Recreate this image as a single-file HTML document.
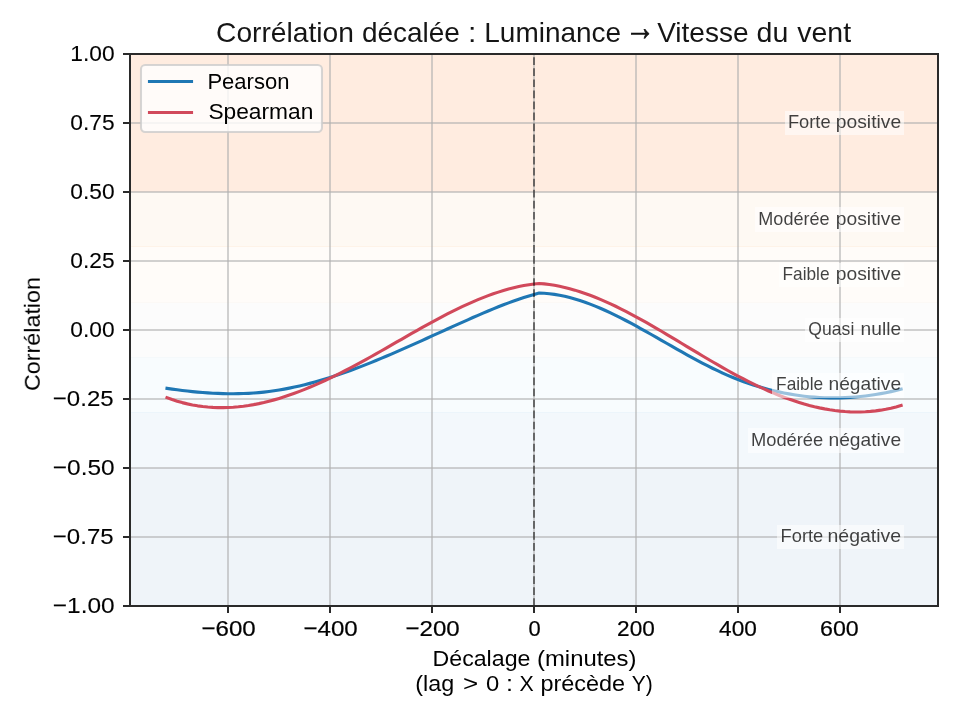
<!DOCTYPE html>
<html lang="fr"><head><meta charset="utf-8"><title>Corrélation décalée : Luminance → Vitesse du vent</title>
<style>
html,body{margin:0;padding:0;background:#fff;overflow:hidden}
svg{display:block}
text{font-family:"Liberation Sans",sans-serif;fill:#000}
</style></head>
<body>
<svg width="960" height="720" viewBox="0 0 960 720">
<rect width="960" height="720" fill="#fff"/>
<g id="bands" shape-rendering="crispEdges">
<rect x="130" y="54" width="808" height="138" fill="#FFECE0"/>
<rect x="130" y="192" width="808" height="54" fill="#FEF9F3"/>
<rect x="130" y="247" width="808" height="55" fill="#FFFCF9"/>
<rect x="130" y="303" width="808" height="54" fill="#FCFCFC"/>
<rect x="130" y="358" width="808" height="54" fill="#F8FCFE"/>
<rect x="130" y="413" width="808" height="55" fill="#F3F8FC"/>
<rect x="130" y="468" width="808" height="138" fill="#EFF4F9"/>
<rect x="130" y="246" width="808" height="1" fill="#FEF3E8"/>
<rect x="130" y="302" width="808" height="1" fill="#FCF9F6"/>
<rect x="130" y="357" width="808" height="1" fill="#F5F9FB"/>
<rect x="130" y="412" width="808" height="1" fill="#ECF5FB"/>
</g>
<g id="grid" fill="#b0b0b0" fill-opacity="0.583" shape-rendering="crispEdges">
<rect x="227" y="54" width="2" height="552"/>
<rect x="329" y="54" width="2" height="552"/>
<rect x="431" y="54" width="2" height="552"/>
<rect x="533" y="54" width="2" height="552"/>
<rect x="635" y="54" width="2" height="552"/>
<rect x="737" y="54" width="2" height="552"/>
<rect x="839" y="54" width="2" height="552"/>
<rect x="130" y="536" width="808" height="2"/>
<rect x="130" y="467" width="808" height="2"/>
<rect x="130" y="398" width="808" height="2"/>
<rect x="130" y="329" width="808" height="2"/>
<rect x="130" y="260" width="808" height="2"/>
<rect x="130" y="191" width="808" height="2"/>
<rect x="130" y="122" width="808" height="2"/>
</g>
<g id="curves" fill="none" stroke-width="3.125" stroke-linejoin="round" stroke-linecap="square">
<path stroke="#1f77b4" d="M167.00 388.32 L172.10 389.09 L177.20 389.81 L182.30 390.47 L187.40 391.07 L192.49 391.62 L197.59 392.10 L202.69 392.53 L207.79 392.90 L212.89 393.20 L217.98 393.43 L223.08 393.61 L228.18 393.71 L233.28 393.73 L238.37 393.68 L243.47 393.55 L248.57 393.33 L253.67 393.02 L258.77 392.61 L263.86 392.11 L268.96 391.51 L274.06 390.80 L279.16 390.01 L284.26 389.12 L289.35 388.14 L294.45 387.07 L299.55 385.92 L304.65 384.69 L309.74 383.38 L314.84 381.99 L319.94 380.53 L325.04 379.01 L330.14 377.41 L335.23 375.75 L340.33 374.03 L345.43 372.25 L350.53 370.42 L355.63 368.53 L360.72 366.59 L365.82 364.61 L370.92 362.58 L376.02 360.51 L381.11 358.40 L386.21 356.26 L391.31 354.09 L396.41 351.88 L401.51 349.66 L406.60 347.41 L411.70 345.14 L416.80 342.85 L421.90 340.56 L427.00 338.25 L432.09 335.94 L437.19 333.62 L442.29 331.30 L447.39 328.98 L452.48 326.67 L457.58 324.37 L462.68 322.08 L467.78 319.81 L472.88 317.55 L477.97 315.32 L483.07 313.13 L488.17 310.97 L493.27 308.86 L498.37 306.80 L503.46 304.80 L508.56 302.87 L513.66 301.00 L518.76 299.22 L523.85 297.53 L528.95 295.92 L534.05 294.41 L539.15 293.01 L544.25 293.25 L549.34 293.70 L554.44 294.36 L559.54 295.23 L564.64 296.28 L569.73 297.52 L574.83 298.93 L579.93 300.51 L585.03 302.24 L590.13 304.11 L595.22 306.12 L600.32 308.26 L605.42 310.51 L610.52 312.88 L615.62 315.33 L620.71 317.88 L625.81 320.51 L630.91 323.21 L636.01 325.97 L641.10 328.77 L646.20 331.63 L651.30 334.51 L656.40 337.42 L661.50 340.34 L666.59 343.26 L671.69 346.19 L676.79 349.09 L681.89 351.98 L686.99 354.83 L692.08 357.63 L697.18 360.39 L702.28 363.09 L707.38 365.71 L712.47 368.26 L717.57 370.71 L722.67 373.07 L727.77 375.32 L732.87 377.47 L737.96 379.50 L743.06 381.42 L748.16 383.24 L753.26 384.95 L758.36 386.55 L763.45 388.04 L768.55 389.43 L773.65 390.71 L778.75 391.88 L783.84 392.95 L788.94 393.91 L794.04 394.77 L799.14 395.53 L804.24 396.18 L809.33 396.72 L814.43 397.16 L819.53 397.50 L824.63 397.74 L829.73 397.87 L834.82 397.90 L839.92 397.83 L845.02 397.66 L850.12 397.39 L855.21 397.02 L860.31 396.55 L865.41 395.97 L870.51 395.30 L875.61 394.53 L880.70 393.66 L885.80 392.69 L890.90 391.62 L896.00 390.46 L901.10 389.20"/>
<path stroke="#d1495b" d="M167.00 397.67 L172.10 399.52 L177.20 401.17 L182.30 402.62 L187.40 403.87 L192.49 404.94 L197.59 405.83 L202.69 406.53 L207.79 407.06 L212.89 407.42 L217.98 407.61 L223.08 407.63 L228.18 407.50 L233.28 407.22 L238.37 406.78 L243.47 406.20 L248.57 405.47 L253.67 404.61 L258.77 403.62 L263.86 402.50 L268.96 401.25 L274.06 399.88 L279.16 398.40 L284.26 396.80 L289.35 395.10 L294.45 393.30 L299.55 391.39 L304.65 389.39 L309.74 387.31 L314.84 385.13 L319.94 382.87 L325.04 380.54 L330.14 378.13 L335.23 375.66 L340.33 373.11 L345.43 370.51 L350.53 367.86 L355.63 365.15 L360.72 362.39 L365.82 359.59 L370.92 356.75 L376.02 353.88 L381.11 350.99 L386.21 348.07 L391.31 345.15 L396.41 342.22 L401.51 339.28 L406.60 336.36 L411.70 333.45 L416.80 330.56 L421.90 327.69 L427.00 324.86 L432.09 322.06 L437.19 319.31 L442.29 316.61 L447.39 313.97 L452.48 311.39 L457.58 308.88 L462.68 306.45 L467.78 304.10 L472.88 301.84 L477.97 299.68 L483.07 297.62 L488.17 295.66 L493.27 293.82 L498.37 292.11 L503.46 290.52 L508.56 289.06 L513.66 287.75 L518.76 286.58 L523.85 285.56 L528.95 284.70 L534.05 284.01 L539.15 283.49 L544.25 283.92 L549.34 284.53 L554.44 285.32 L559.54 286.28 L564.64 287.41 L569.73 288.69 L574.83 290.13 L579.93 291.71 L585.03 293.43 L590.13 295.29 L595.22 297.26 L600.32 299.36 L605.42 301.56 L610.52 303.88 L615.62 306.28 L620.71 308.79 L625.81 311.37 L630.91 314.03 L636.01 316.77 L641.10 319.57 L646.20 322.42 L651.30 325.33 L656.40 328.28 L661.50 331.27 L666.59 334.29 L671.69 337.34 L676.79 340.40 L681.89 343.47 L686.99 346.55 L692.08 349.62 L697.18 352.69 L702.28 355.74 L707.38 358.76 L712.47 361.76 L717.57 364.72 L722.67 367.64 L727.77 370.50 L732.87 373.32 L737.96 376.06 L743.06 378.74 L748.16 381.35 L753.26 383.88 L758.36 386.32 L763.45 388.68 L768.55 390.95 L773.65 393.13 L778.75 395.21 L783.84 397.19 L788.94 399.06 L794.04 400.82 L799.14 402.47 L804.24 404.01 L809.33 405.42 L814.43 406.70 L819.53 407.86 L824.63 408.88 L829.73 409.76 L834.82 410.51 L839.92 411.10 L845.02 411.55 L850.12 411.85 L855.21 411.98 L860.31 411.96 L865.41 411.77 L870.51 411.41 L875.61 410.88 L880.70 410.17 L885.80 409.28 L890.90 408.21 L896.00 406.94 L901.10 405.48"/>
</g>
<line x1="534" y1="606" x2="534" y2="54" stroke="#000" stroke-opacity="0.5" stroke-width="2" stroke-dasharray="7.71 3.33"/>
<g id="axes" fill="#2a2a2a" shape-rendering="crispEdges">
<rect x="129" y="53" width="2" height="554"/><rect x="937" y="53" width="2" height="554"/><rect x="129" y="53" width="810" height="2"/><rect x="129" y="605" width="810" height="2"/>
<rect x="227" y="607" width="2" height="6"/><rect x="329" y="607" width="2" height="6"/><rect x="431" y="607" width="2" height="6"/><rect x="533" y="607" width="2" height="6"/><rect x="635" y="607" width="2" height="6"/><rect x="737" y="607" width="2" height="6"/><rect x="839" y="607" width="2" height="6"/>
<rect x="123" y="605" width="6" height="2"/><rect x="123" y="536" width="6" height="2"/><rect x="123" y="467" width="6" height="2"/><rect x="123" y="398" width="6" height="2"/><rect x="123" y="329" width="6" height="2"/><rect x="123" y="260" width="6" height="2"/><rect x="123" y="191" width="6" height="2"/><rect x="123" y="122" width="6" height="2"/><rect x="123" y="53" width="6" height="2"/>
</g>
<g id="legend">
<rect x="141" y="65" width="181" height="67" rx="4.17" ry="4.17" fill="#fff" fill-opacity="0.8" stroke="#ccc" stroke-opacity="0.8" stroke-width="2.08"/>
<line x1="149.5" y1="81.5" x2="191.5" y2="81.5" stroke="#1f77b4" stroke-width="3.125" stroke-linecap="square"/>
<line x1="149.5" y1="112.5" x2="191.5" y2="112.5" stroke="#d1495b" stroke-width="3.125" stroke-linecap="square"/>
</g>
<g id="zoneboxes" fill="#fff" fill-opacity="0.55" shape-rendering="crispEdges">
<rect x="785" y="111" width="119" height="24"/>
<rect x="755" y="207" width="149" height="25"/>
<rect x="779" y="263" width="125" height="24"/>
<rect x="805" y="318" width="99" height="24"/>
<rect x="772" y="373" width="132" height="25"/>
<rect x="748" y="428" width="156" height="25"/>
<rect x="777" y="525" width="127" height="24"/>
</g>
<g id="labels" style="opacity:0.999">
<text y="42.20" font-size="27.40" fill-opacity="0.92"><tspan x="216.05" textLength="137.87" lengthAdjust="spacingAndGlyphs">Corrélation</tspan> <tspan x="361.92" textLength="98.00" lengthAdjust="spacingAndGlyphs">décalée</tspan> <tspan x="467.92" textLength="8.38" lengthAdjust="spacingAndGlyphs">:</tspan> <tspan x="484.30" textLength="136.87" lengthAdjust="spacingAndGlyphs">Luminance</tspan> <tspan x="624.97" textLength="29.90" lengthAdjust="spacingAndGlyphs" font-size="38.0" dy="-2.00" stroke="#000" stroke-width="0.65">→</tspan> <tspan x="657.18" textLength="91.40" lengthAdjust="spacingAndGlyphs" dy="2.00">Vitesse</tspan> <tspan x="756.55" textLength="31.75" lengthAdjust="spacingAndGlyphs">du</tspan> <tspan x="797.30" textLength="53.74" lengthAdjust="spacingAndGlyphs">vent</tspan></text>
<text y="665.60" font-size="22.60"><tspan x="432.55" textLength="97.87" lengthAdjust="spacingAndGlyphs">Décalage</tspan> <tspan x="537.05" textLength="99.47" lengthAdjust="spacingAndGlyphs">(minutes)</tspan></text>
<text y="690.60" font-size="22.60"><tspan x="415.30" textLength="38.92" lengthAdjust="spacingAndGlyphs">(lag</tspan> <tspan x="462.92" textLength="15.17" lengthAdjust="spacingAndGlyphs">&gt;</tspan> <tspan x="486.05" textLength="13.25" lengthAdjust="spacingAndGlyphs">0</tspan> <tspan x="505.92" textLength="7.00" lengthAdjust="spacingAndGlyphs">:</tspan> <tspan x="519.55" textLength="14.25" lengthAdjust="spacingAndGlyphs">X</tspan> <tspan x="540.42" textLength="84.75" lengthAdjust="spacingAndGlyphs">précède</tspan> <tspan x="631.80" textLength="21.00" lengthAdjust="spacingAndGlyphs">Y)</tspan></text>
<text transform="translate(39.80 391.00) rotate(-90)" font-size="22.60" textLength="113.97" lengthAdjust="spacingAndGlyphs">Corrélation</text>
<text x="207.40" y="88.80" font-size="22.60" textLength="82.00" lengthAdjust="spacingAndGlyphs">Pearson</text>
<text x="208.40" y="119.20" font-size="22.60" textLength="104.98" lengthAdjust="spacingAndGlyphs">Spearman</text>
<text x="201.53" y="636.40" font-size="22.60" stroke="#000" stroke-width="0.22" textLength="54.23" lengthAdjust="spacingAndGlyphs">−600</text>
<text x="303.49" y="636.40" font-size="22.60" stroke="#000" stroke-width="0.22" textLength="54.23" lengthAdjust="spacingAndGlyphs">−400</text>
<text x="405.44" y="636.40" font-size="22.60" stroke="#000" stroke-width="0.22" textLength="54.23" lengthAdjust="spacingAndGlyphs">−200</text>
<text x="528.40" y="636.40" font-size="22.60" stroke="#000" stroke-width="0.22" textLength="12.19" lengthAdjust="spacingAndGlyphs">0</text>
<text x="617.11" y="636.40" font-size="22.60" stroke="#000" stroke-width="0.22" textLength="37.71" lengthAdjust="spacingAndGlyphs">200</text>
<text x="719.06" y="636.40" font-size="22.60" stroke="#000" stroke-width="0.22" textLength="37.76" lengthAdjust="spacingAndGlyphs">400</text>
<text x="820.02" y="636.40" font-size="22.60" stroke="#000" stroke-width="0.22" textLength="38.75" lengthAdjust="spacingAndGlyphs">600</text>
<text x="52.80" y="613.40" font-size="22.60" stroke="#000" stroke-width="0.10" textLength="61.86" lengthAdjust="spacingAndGlyphs">−1.00</text>
<text x="52.80" y="544.40" font-size="22.60" stroke="#000" stroke-width="0.10" textLength="60.84" lengthAdjust="spacingAndGlyphs">−0.75</text>
<text x="52.80" y="475.40" font-size="22.60" stroke="#000" stroke-width="0.10" textLength="61.86" lengthAdjust="spacingAndGlyphs">−0.50</text>
<text x="52.80" y="406.40" font-size="22.60" stroke="#000" stroke-width="0.10" textLength="60.84" lengthAdjust="spacingAndGlyphs">−0.25</text>
<text x="70.30" y="337.40" font-size="22.60" stroke="#000" stroke-width="0.10" textLength="44.34" lengthAdjust="spacingAndGlyphs">0.00</text>
<text x="70.30" y="268.40" font-size="22.60" stroke="#000" stroke-width="0.10" textLength="44.34" lengthAdjust="spacingAndGlyphs">0.25</text>
<text x="70.30" y="199.40" font-size="22.60" stroke="#000" stroke-width="0.10" textLength="44.34" lengthAdjust="spacingAndGlyphs">0.50</text>
<text x="70.30" y="130.40" font-size="22.60" stroke="#000" stroke-width="0.10" textLength="44.34" lengthAdjust="spacingAndGlyphs">0.75</text>
<text x="70.30" y="61.40" font-size="22.60" stroke="#000" stroke-width="0.10" textLength="44.29" lengthAdjust="spacingAndGlyphs">1.00</text>
<text y="127.75" font-size="18.10" fill-opacity="0.75"><tspan x="787.97" textLength="42.63" lengthAdjust="spacingAndGlyphs">Forte</tspan> <tspan x="835.85" textLength="65.25" lengthAdjust="spacingAndGlyphs">positive</tspan></text>
<text y="224.75" font-size="18.10" fill-opacity="0.75"><tspan x="758.35" textLength="71.22" lengthAdjust="spacingAndGlyphs">Modérée</tspan> <tspan x="835.85" textLength="65.25" lengthAdjust="spacingAndGlyphs">positive</tspan></text>
<text y="279.75" font-size="18.10" fill-opacity="0.75"><tspan x="782.47" textLength="47.08" lengthAdjust="spacingAndGlyphs">Faible</tspan> <tspan x="835.85" textLength="65.25" lengthAdjust="spacingAndGlyphs">positive</tspan></text>
<text y="334.75" font-size="18.10" fill-opacity="0.75"><tspan x="808.35" textLength="45.96" lengthAdjust="spacingAndGlyphs">Quasi</tspan> <tspan x="860.60" textLength="40.50" lengthAdjust="spacingAndGlyphs">nulle</tspan></text>
<text y="389.75" font-size="18.10" fill-opacity="0.75"><tspan x="776.10" textLength="47.10" lengthAdjust="spacingAndGlyphs">Faible</tspan> <tspan x="828.47" textLength="72.63" lengthAdjust="spacingAndGlyphs">négative</tspan></text>
<text y="445.75" font-size="18.10" fill-opacity="0.75"><tspan x="750.97" textLength="72.25" lengthAdjust="spacingAndGlyphs">Modérée</tspan> <tspan x="828.47" textLength="72.63" lengthAdjust="spacingAndGlyphs">négative</tspan></text>
<text y="541.75" font-size="18.10" fill-opacity="0.75"><tspan x="780.60" textLength="42.62" lengthAdjust="spacingAndGlyphs">Forte</tspan> <tspan x="827.47" textLength="73.67" lengthAdjust="spacingAndGlyphs">négative</tspan></text>
</g>
</svg>
</body></html>
